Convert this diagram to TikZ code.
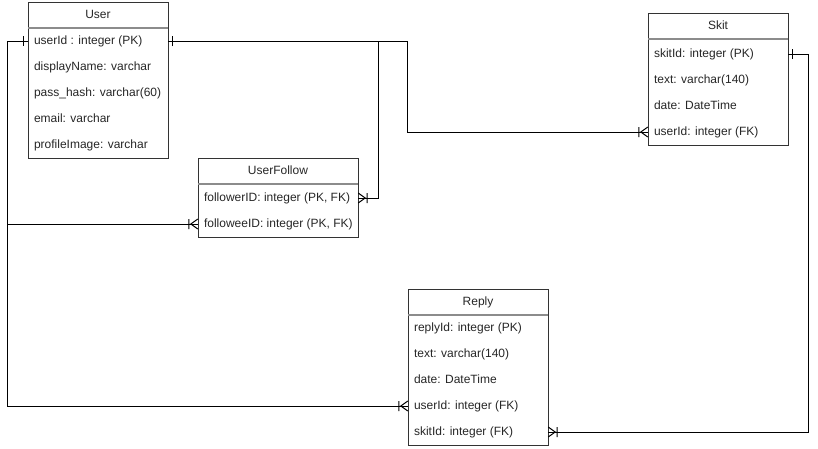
\documentclass[tikz,border=0pt]{standalone}
\usepackage{fontspec}
\setmainfont{Liberation Sans}
\usetikzlibrary{arrows.meta}

% one: a single bar near the end
\pgfdeclarearrow{
  name=ERone,
  setup code={
    \pgfarrowssettipend{0pt}
    \pgfarrowssetlineend{0pt}
    \pgfarrowssetbackend{-6pt}
    \pgfarrowshullpoint{-4pt}{5pt}
    \pgfarrowshullpoint{-4pt}{-5pt}
  },
  drawing code={
    \pgfpathmoveto{\pgfpoint{-4pt}{5pt}}
    \pgfpathlineto{\pgfpoint{-4pt}{-5pt}}
    \pgfusepathqstroke
  }
}
% one or many: bar plus crow's foot
\pgfdeclarearrow{
  name=ERmany,
  setup code={
    \pgfarrowssettipend{0pt}
    \pgfarrowssetlineend{0pt}
    \pgfarrowssetbackend{-10pt}
    \pgfarrowshullpoint{0pt}{5pt}
    \pgfarrowshullpoint{0pt}{-5pt}
    \pgfarrowshullpoint{-9pt}{5pt}
    \pgfarrowshullpoint{-9pt}{-5pt}
  },
  drawing code={
    \pgfpathmoveto{\pgfpoint{0pt}{5pt}}
    \pgfpathlineto{\pgfpoint{-7pt}{0pt}}
    \pgfpathlineto{\pgfpoint{0pt}{-5pt}}
    \pgfpathmoveto{\pgfpoint{-9pt}{5pt}}
    \pgfpathlineto{\pgfpoint{-9pt}{-5pt}}
    \pgfusepathqstroke
  }
}

\tikzset{
  tbl/.style={draw=black!80, line width=1pt},
  sepline/.style={draw=black!45, line width=1.6pt},
  title/.style={inner sep=0pt, text height=8.5pt, text depth=2.5pt,
    font=\fontsize{12}{14}\selectfont, text=black!85},
  field/.style={inner xsep=6pt, inner ysep=0pt, minimum height=26pt,
    text height=8.5pt, text depth=2.5pt,
    font=\fontsize{12}{14}\selectfont, text=black!85},
  rel/.style={ERone-ERmany, line width=1pt, black}
}

\begin{document}
\begin{tikzpicture}[x=1pt, y=-1pt]
	\useasboundingbox (0,0) rectangle (818,448);

	% User
	\draw[tbl] (28,2) rectangle (168,158);
	\draw[sepline] (28,28) -- (168,28);
	\node[title] (user) at (98,15) {User};
	\foreach \f [count=\i] in {userId : integer (PK), displayName: varchar,
		pass\_hash: varchar(60), email: varchar, profileImage: varchar}{
		\node[field] (user-\i) at (98,15+26*\i) {\makebox[128pt][l]{\f}};
	}

	% UserFollow
	\draw[tbl] (198,158) rectangle (358,237);
	\draw[sepline] (198,184) -- (358,184);
	\node[title] (follow) at (278,171) {UserFollow};
	\foreach \f [count=\i] in {{followerID: integer (PK, FK)}, {followeeID: integer (PK, FK)}}{
		\node[field] (follow-\i) at (278,172+26*\i) {\makebox[148pt][l]{\f}};
	}

	% Skit
	\draw[tbl] (648,13) rectangle (788,145);
	\draw[sepline] (648,39) -- (788,39);
	\node[title] (skit) at (718,26) {Skit};
	\foreach \f [count=\i] in {skitId: integer (PK), text: varchar(140),
		date: DateTime, userId: integer (FK)}{
		\node[field] (skit-\i) at (718,28+26*\i) {\makebox[128pt][l]{\f}};
	}

	% Reply
	\draw[tbl] (408,289) rectangle (548,445);
	\draw[sepline] (408,315) -- (548,315);
	\node[title] (reply) at (478,302) {Reply};
	\foreach \f [count=\i] in {replyId: integer (PK), text: varchar(140),
		date: DateTime, userId: integer (FK), skitId: integer (FK)}{
		\node[field] (reply-\i) at (478,302+26*\i) {\makebox[128pt][l]{\f}};
	}

	% relations
	\draw[rel] (user-1.west) -- ++(-20,0) |- (follow-2.west);
	\draw[rel] (user-1.west) -- ++(-20,0) |- (reply-4.west);
	\draw[rel] (user-1.east) -| ([xshift=20pt]follow-1.east) -- (follow-1.east);
	\draw[rel] (user-1.east) -| ([xshift=-240pt]skit-4.west) -- (skit-4.west);
	\draw[rel] (skit-1.east) -- ++(20,0) |- (reply-5.east);
\end{tikzpicture}
\end{document}
